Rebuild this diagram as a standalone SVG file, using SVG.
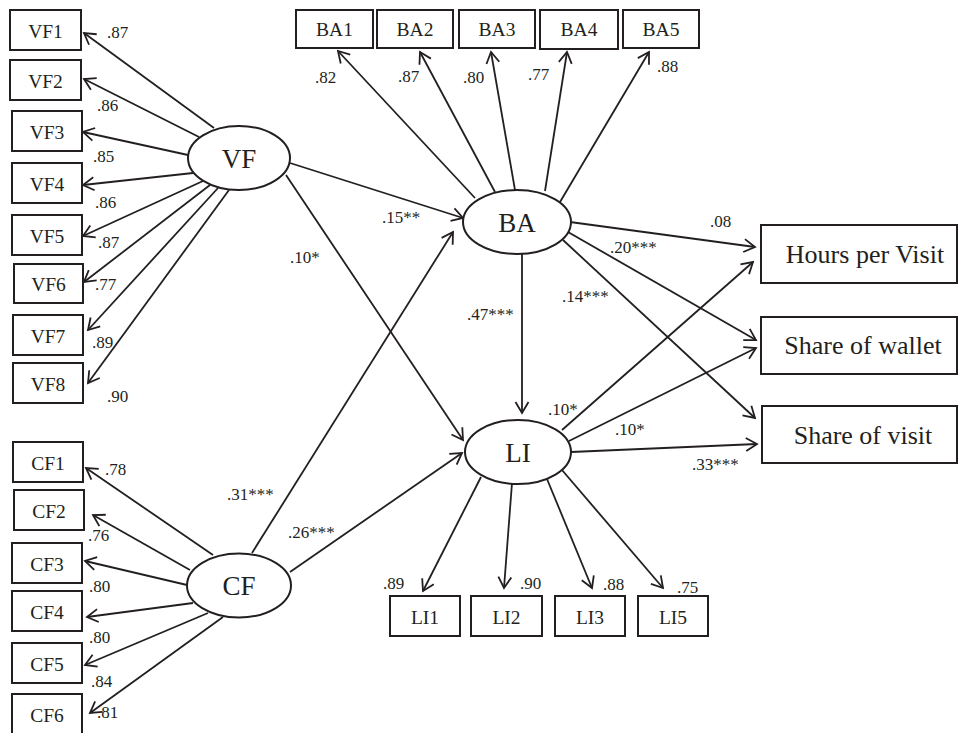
<svg xmlns="http://www.w3.org/2000/svg" width="958" height="733" viewBox="0 0 958 733">
<style>
.box{fill:#fff;stroke:#231f20;stroke-width:2}
.ell{fill:#fff;stroke:#231f20;stroke-width:2}
.bt{font-family:"Liberation Serif","Times New Roman",serif;font-size:19.5px;fill:#231f20;text-anchor:middle}
.et{font-family:"Liberation Serif","Times New Roman",serif;font-size:27px;fill:#231f20;text-anchor:middle}
.ot{font-family:"Liberation Serif","Times New Roman",serif;font-size:26px;fill:#231f20;text-anchor:middle}
.lb{font-family:"Liberation Serif","Times New Roman",serif;font-size:17px;fill:#231f20}
.c line{stroke:#231f20;stroke-width:1.8;fill:none;marker-end:url(#a)}
</style>
<defs>
<marker id="a" viewBox="-13 -8 15 16" refX="0" refY="0" markerWidth="15" markerHeight="16" markerUnits="userSpaceOnUse" orient="auto" overflow="visible">
<path d="M-11,-6.5 L0,0 L-11,6.5" fill="none" stroke="#231f20" stroke-width="1.8"/>
</marker>
</defs>
<rect width="958" height="733" fill="#fff"/>
<g id="connectors" class="c">
<line x1="214" y1="128" x2="84" y2="33"/>
<line x1="199" y1="137" x2="84" y2="79"/>
<line x1="188" y1="155" x2="83" y2="132"/>
<line x1="193" y1="173" x2="83" y2="185"/>
<line x1="203" y1="181" x2="83" y2="236"/>
<line x1="210" y1="185" x2="84" y2="282"/>
<line x1="218" y1="188" x2="88" y2="330"/>
<line x1="229" y1="190" x2="88" y2="383"/>
<line x1="475" y1="198" x2="338" y2="51"/>
<line x1="495" y1="192" x2="420" y2="52"/>
<line x1="515" y1="190" x2="491" y2="52"/>
<line x1="545" y1="191" x2="567" y2="52"/>
<line x1="560" y1="202" x2="649" y2="52"/>
<line x1="290" y1="163" x2="463" y2="218"/>
<line x1="286" y1="175" x2="463" y2="440"/>
<line x1="252" y1="553" x2="453" y2="232"/>
<line x1="290" y1="572" x2="462" y2="453"/>
<line x1="522" y1="254" x2="522" y2="413"/>
<line x1="570" y1="222" x2="755" y2="247"/>
<line x1="568" y1="232" x2="756" y2="340"/>
<line x1="563" y1="240" x2="755" y2="418"/>
<line x1="562" y1="430" x2="753" y2="262"/>
<line x1="569" y1="441" x2="756" y2="348"/>
<line x1="571" y1="452" x2="757" y2="444"/>
<line x1="481" y1="477" x2="423" y2="591"/>
<line x1="512" y1="483" x2="504" y2="588"/>
<line x1="547" y1="479" x2="592" y2="588"/>
<line x1="562" y1="470" x2="663" y2="588"/>
<line x1="213" y1="555" x2="86" y2="468"/>
<line x1="190" y1="570" x2="93" y2="515"/>
<line x1="187" y1="585" x2="85" y2="561"/>
<line x1="193" y1="603" x2="87" y2="617"/>
<line x1="208" y1="613" x2="85" y2="665"/>
<line x1="223" y1="617" x2="90" y2="713"/>
</g>
<g id="VF1"><rect class="box" x="10" y="10" width="71" height="40"/><text class="bt" x="45.5" y="37.5">VF1</text></g>
<g id="VF2"><rect class="box" x="10" y="60" width="71" height="40"/><text class="bt" x="45.5" y="87.5">VF2</text></g>
<g id="VF3"><rect class="box" x="12" y="111" width="70" height="40"/><text class="bt" x="47" y="138.5">VF3</text></g>
<g id="VF4"><rect class="box" x="12" y="163" width="70" height="40"/><text class="bt" x="47" y="190.5">VF4</text></g>
<g id="VF5"><rect class="box" x="12" y="215" width="70" height="40"/><text class="bt" x="47" y="242.5">VF5</text></g>
<g id="VF6"><rect class="box" x="14" y="264" width="69" height="39"/><text class="bt" x="48.5" y="291">VF6</text></g>
<g id="VF7"><rect class="box" x="13" y="315" width="70" height="40"/><text class="bt" x="48" y="342.5">VF7</text></g>
<g id="VF8"><rect class="box" x="13" y="363" width="70" height="40"/><text class="bt" x="48" y="390.5">VF8</text></g>
<g id="CF1"><rect class="box" x="13" y="442" width="70" height="40"/><text class="bt" x="48" y="469.5">CF1</text></g>
<g id="CF2"><rect class="box" x="14" y="490" width="70" height="40"/><text class="bt" x="49" y="517.5">CF2</text></g>
<g id="CF3"><rect class="box" x="12" y="543" width="70" height="40"/><text class="bt" x="47" y="570.5">CF3</text></g>
<g id="CF4"><rect class="box" x="12" y="591" width="70" height="40"/><text class="bt" x="47" y="618.5">CF4</text></g>
<g id="CF5"><rect class="box" x="12" y="643" width="70" height="40"/><text class="bt" x="47" y="670.5">CF5</text></g>
<g id="CF6"><rect class="box" x="12" y="694" width="70" height="42"/><text class="bt" x="47" y="721.5">CF6</text></g>
<g id="BA1"><rect class="box" x="296" y="10" width="77" height="38"/><text class="bt" x="334.5" y="35.5">BA1</text></g>
<g id="BA2"><rect class="box" x="377" y="10" width="76" height="38"/><text class="bt" x="415" y="35.5">BA2</text></g>
<g id="BA3"><rect class="box" x="459" y="10" width="76" height="38"/><text class="bt" x="497" y="35.5">BA3</text></g>
<g id="BA4"><rect class="box" x="540" y="10" width="78" height="39"/><text class="bt" x="579" y="35.5">BA4</text></g>
<g id="BA5"><rect class="box" x="623" y="10" width="76" height="38"/><text class="bt" x="661" y="35.5">BA5</text></g>
<g id="LI1"><rect class="box" x="390" y="596" width="70" height="40"/><text class="bt" x="425" y="623.5">LI1</text></g>
<g id="LI2"><rect class="box" x="471" y="596" width="71" height="40"/><text class="bt" x="506.5" y="623.5">LI2</text></g>
<g id="LI3"><rect class="box" x="555" y="596" width="70" height="40"/><text class="bt" x="590" y="623.5">LI3</text></g>
<g id="LI5"><rect class="box" x="638" y="596" width="70" height="40"/><text class="bt" x="673" y="623.5">LI5</text></g>
<g id="Hours"><rect class="box" x="761" y="225" width="196" height="58"/><text class="ot" x="865" y="263">Hours per Visit</text></g>
<g id="Wallet"><rect class="box" x="761" y="317" width="196" height="57"/><text class="ot" x="863" y="354">Share of wallet</text></g>
<g id="Visit"><rect class="box" x="762" y="406" width="195" height="57"/><text class="ot" x="863" y="444">Share of visit</text></g>
<g id="VF"><ellipse class="ell" cx="239" cy="158" rx="51" ry="32"/><text class="et" x="239" y="168">VF</text></g>
<g id="BA"><ellipse class="ell" cx="517" cy="222" rx="54" ry="32"/><text class="et" x="517" y="232">BA</text></g>
<g id="LI"><ellipse class="ell" cx="518" cy="452" rx="53" ry="32"/><text class="et" x="518" y="462">LI</text></g>
<g id="CF"><ellipse class="ell" cx="239" cy="585.5" rx="52" ry="32"/><text class="et" x="239" y="595">CF</text></g>
<g id="labels">
<text class="lb" x="107" y="38">.87</text>
<text class="lb" x="97" y="111">.86</text>
<text class="lb" x="93" y="162">.85</text>
<text class="lb" x="95" y="208">.86</text>
<text class="lb" x="98" y="248">.87</text>
<text class="lb" x="95" y="290">.77</text>
<text class="lb" x="92" y="348">.89</text>
<text class="lb" x="107" y="402">.90</text>
<text class="lb" x="105" y="475">.78</text>
<text class="lb" x="88" y="541">.76</text>
<text class="lb" x="89" y="592">.80</text>
<text class="lb" x="89" y="643">.80</text>
<text class="lb" x="91" y="687">.84</text>
<text class="lb" x="97" y="718">.81</text>
<text class="lb" x="315" y="83">.82</text>
<text class="lb" x="398" y="82">.87</text>
<text class="lb" x="463" y="83">.80</text>
<text class="lb" x="528" y="80">.77</text>
<text class="lb" x="657" y="72">.88</text>
<text class="lb" x="382" y="223">.15**</text>
<text class="lb" x="290" y="263">.10*</text>
<text class="lb" x="467" y="320">.47***</text>
<text class="lb" x="227" y="500">.31***</text>
<text class="lb" x="288" y="538">.26***</text>
<text class="lb" x="710" y="227">.08</text>
<text class="lb" x="610" y="253">.20***</text>
<text class="lb" x="562" y="302">.14***</text>
<text class="lb" x="548" y="415">.10*</text>
<text class="lb" x="615" y="435">.10*</text>
<text class="lb" x="692" y="470">.33***</text>
<text class="lb" x="383" y="589">.89</text>
<text class="lb" x="520" y="589">.90</text>
<text class="lb" x="603" y="590">.88</text>
<text class="lb" x="677" y="593">.75</text>
</g>
</svg>
